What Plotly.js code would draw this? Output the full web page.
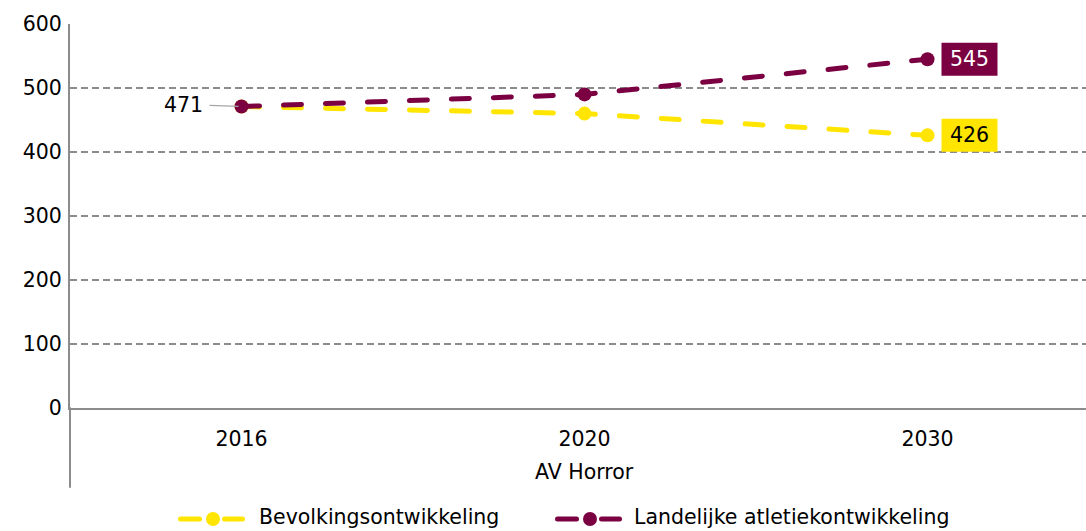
<!DOCTYPE html>
<html><head><meta charset="utf-8">
<script src="https://cdn.plot.ly/plotly-3.0.1.min.js"></script>
<style>
html,body{margin:0;padding:0;background:#fff;}
#chart{width:1086px;height:531px;}
.scatterlayer .js-line{stroke-linecap:round;}
.shapelayer path{stroke-linecap:round;}
</style></head><body><div id="chart"></div>
<script>
const years = ['2016', '2020', '2030'];
const groupLabel = 'AV Horror';
const seriesNames = ['Bevolkingsontwikkeling', 'Landelijke atletiekontwikkeling'];
const bevolking = [471, 460, 426];
const landelijk = [471, 490, 545];
const yTicks = [0, 100, 200, 300, 400, 500, 600];

const YELLOW = '#FFE500';
const MAROON = '#7B0041';
const GRID = '#8c8c8c';
const FONT = 'DejaVu Sans, Verdana, sans-serif';
const FS = 20.5;

// pixel -> paper helpers (plot area: x 70..1086, y 24..408)
const L = 70, W = 1016, T = 24, H = 384;
const px = v => (v - L) / W;
const py = v => (T + H - v) / H;

function mkTrace(name, vals, color) {
  return {
    type: 'scatter', mode: 'lines+markers', name: name,
    x: years, y: vals,
    line: {color: color, width: 5, dash: '18px,24px'},
    marker: {color: color, size: 14, symbol: 'circle'},
    hoverinfo: 'x+y', showlegend: false, cliponaxis: false
  };
}

const data = [
  mkTrace(seriesNames[0], bevolking, YELLOW),
  mkTrace(seriesNames[1], landelijk, MAROON)
];

const last = years.length - 1;
const shapes = [
  // extension of the vertical axis line below the category labels
  {type: 'line', xref: 'paper', yref: 'paper', x0: 0, x1: 0, y0: 0, y1: py(487),
   line: {color: GRID, width: 2}},
  // value label boxes at last point
  {type: 'rect', xref: 'x', yref: 'y', xsizemode: 'pixel', ysizemode: 'pixel',
   xanchor: last, yanchor: landelijk[last], x0: 14, x1: 70, y0: -16.5, y1: 16.5,
   fillcolor: MAROON, line: {width: 0}},
  {type: 'rect', xref: 'x', yref: 'y', xsizemode: 'pixel', ysizemode: 'pixel',
   xanchor: last, yanchor: bevolking[last], x0: 14, x1: 70, y0: -16.5, y1: 16.5,
   fillcolor: YELLOW, line: {width: 0}}
];

// custom legend symbols
const LEG_Y = 519;
function legendSymbol(xStart, color) {
  const yy = py(LEG_Y);
  shapes.push({type: 'line', xref: 'paper', yref: 'paper', x0: px(xStart + 2.5), x1: px(xStart + 21.5), y0: yy, y1: yy, line: {color: color, width: 5}});
  shapes.push({type: 'line', xref: 'paper', yref: 'paper', x0: px(xStart + 46.5), x1: px(xStart + 64.5), y0: yy, y1: yy, line: {color: color, width: 5}});
  shapes.push({type: 'circle', xref: 'paper', yref: 'paper', xsizemode: 'pixel', ysizemode: 'pixel',
    xanchor: px(xStart + 35), yanchor: yy, x0: -7, x1: 7, y0: -7, y1: 7, fillcolor: color, line: {width: 0}});
}
legendSymbol(178, YELLOW);
legendSymbol(555, MAROON);

const annotations = [
  {x: 0, y: landelijk[0], xref: 'x', yref: 'y', text: String(landelijk[0]), showarrow: true,
   ax: -58, ay: -2, arrowhead: 0, arrowcolor: '#a6a6a6', arrowwidth: 1.3, standoff: 3,
   borderpad: 6, font: {family: FONT, size: FS, color: '#000'}},
  {x: last, y: landelijk[last], xref: 'x', yref: 'y', xshift: 42, text: String(landelijk[last]),
   showarrow: false, font: {family: FONT, size: FS, color: '#fff'}},
  {x: last, y: bevolking[last], xref: 'x', yref: 'y', xshift: 42, text: String(bevolking[last]),
   showarrow: false, font: {family: FONT, size: FS, color: '#000'}},
  {x: 1, y: 0, xref: 'x', yref: 'paper', yanchor: 'middle', yshift: -64, text: groupLabel, showarrow: false,
   font: {family: FONT, size: FS, color: '#000'}},
  {x: px(257), y: py(LEG_Y - 2), xref: 'paper', yref: 'paper', xanchor: 'left', yanchor: 'middle', text: seriesNames[0],
   showarrow: false, font: {family: FONT, size: FS, color: '#000'}},
  {x: px(632), y: py(LEG_Y - 2), xref: 'paper', yref: 'paper', xanchor: 'left', yanchor: 'middle', text: seriesNames[1],
   showarrow: false, font: {family: FONT, size: FS, color: '#000'}}
];

const layout = {
  width: 1086, height: 531,
  margin: {l: L, r: 0, t: T, b: 531 - T - H, autoexpand: false},
  paper_bgcolor: '#fff', plot_bgcolor: '#fff',
  font: {family: FONT, size: FS, color: '#000'},
  showlegend: false,
  xaxis: {
    type: 'category', range: [-0.5, -0.5 + W / 343],
    showline: true, linecolor: GRID, linewidth: 2,
    showgrid: false, zeroline: false, ticks: '',
    tickfont: {family: FONT, size: FS, color: '#000'},
    ticklabelstandoff: 11, fixedrange: true
  },
  yaxis: {
    range: [0, 600], tickvals: yTicks,
    showline: true, linecolor: GRID, linewidth: 2,
    showgrid: true, gridcolor: GRID, gridwidth: 1.6, griddash: '7px,4px',
    zeroline: false, ticks: '',
    tickfont: {family: FONT, size: FS, color: '#000'},
    ticklabelstandoff: 2, fixedrange: true
  },
  shapes: shapes,
  annotations: annotations
};

Plotly.newPlot('chart', data, layout, {displayModeBar: false, staticPlot: true});
</script></body></html>
